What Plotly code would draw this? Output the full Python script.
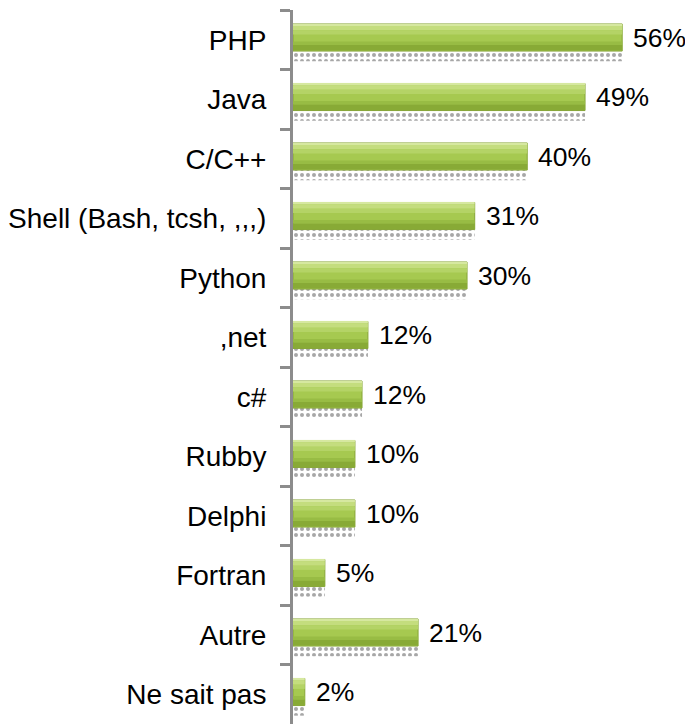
import plotly.graph_objects as go

# Langages utilisés (part des répondants, %)
langages = ['PHP', 'Java', 'C/C++', 'Shell (Bash, tcsh, ,,,)', 'Python', ',net',
            'c#', 'Rubby', 'Delphi', 'Fortran', 'Autre', 'Ne sait pas']
valeurs = [55.8, 49.5, 39.7, 30.8, 29.5, 12.7, 11.7, 10.5, 10.5, 5.4, 21.2, 2.0]
etiquettes = ['56%', '49%', '40%', '31%', '30%', '12%', '12%', '10%', '10%', '5%', '21%', '2%']

police = dict(family='Liberation Sans, Arial, sans-serif', size=28, color='black')
police_val = dict(family='Liberation Sans, Arial, sans-serif', size=26.5, color='black')

fig = go.Figure()

# ombre pointillée sous les barres
fig.add_trace(go.Bar(
    y=langages, x=valeurs, orientation='h', width=0.18, offset=0.18,
    marker=dict(color='white', line=dict(width=0),
                pattern=dict(shape='.', fgcolor='#505050', bgcolor='white', size=6, solidity=0.35)),
    hoverinfo='skip', showlegend=False,
))

# barre principale
fig.add_trace(go.Bar(
    y=langages, x=valeurs, orientation='h', width=0.455, offset=-0.265,
    marker=dict(color='#a6c950', line=dict(color='#86a536', width=1)),
    hoverinfo='skip', showlegend=False,
))

# dégradé (bandes du haut clair vers le bas foncé)
bandes = [(-0.26, 0.03, '#d6e8a0'), (-0.23, 0.07, '#c4dd7e'), (-0.16, 0.07, '#b4d366'),
          (0.03, 0.06, '#98bc44'), (0.09, 0.09, '#88aa36')]
for off, w, c in bandes:
    fig.add_trace(go.Bar(
        y=langages, x=valeurs, orientation='h', width=w, offset=off,
        marker=dict(color=c, line=dict(width=0)),
        hoverinfo='skip', showlegend=False,
    ))

# étiquettes de valeurs
for lang, v, txt in zip(langages, valeurs, etiquettes):
    fig.add_annotation(x=v, y=lang, text=txt, showarrow=False, xanchor='left',
                       xshift=9, yshift=2, font=police_val)

fig.update_layout(
    barmode='overlay',
    width=685, height=718,
    margin=dict(l=285, r=0, t=2, b=2),
    plot_bgcolor='white', paper_bgcolor='white',
    font=police,
)
fig.update_xaxes(range=[0, 67.8], visible=False, showgrid=False, zeroline=False)
fig.update_yaxes(
    autorange='reversed', type='category',
    showline=True, linecolor='#8c8c8c', linewidth=3,
    ticks='outside', tickson='boundaries', ticklen=10, tickcolor='#8c8c8c', tickwidth=3,
    ticklabelstandoff=18, showgrid=False, tickfont=police,
)

fig.write_html("out.html")
